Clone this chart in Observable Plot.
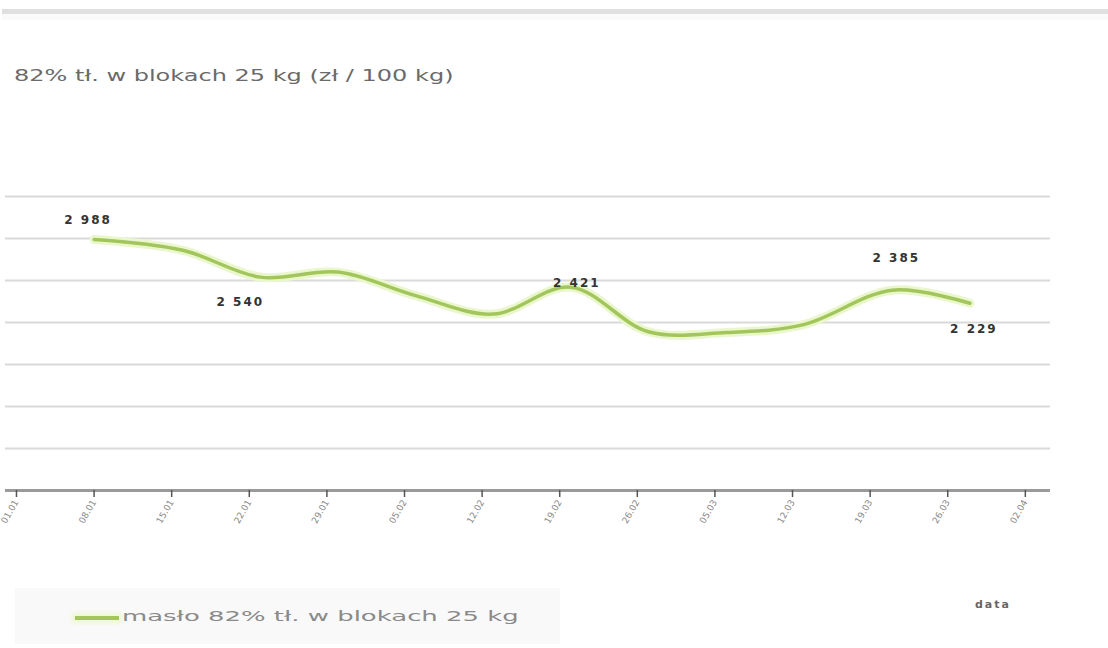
<!DOCTYPE html>
<html><head><meta charset="utf-8">
<script src="https://cdn.jsdelivr.net/npm/d3@7"></script>
<script src="https://cdn.jsdelivr.net/npm/@observablehq/plot@0.6"></script>
<style>
body{margin:0;background:#fff;width:1108px;height:648px;overflow:hidden;position:relative;font-family:"DejaVu Sans",sans-serif}
#rule{position:absolute;left:2px;right:0;top:9px;height:5px;background:#e0e0e0}
#rule2{position:absolute;left:2px;right:0;top:14px;height:6px;background:#fafafa}
#title{position:absolute;left:14px;top:66px;font-size:16px;color:#6a6a6a;white-space:nowrap;transform-origin:left center;transform:scaleX(1.5)}
#chart{position:absolute;left:0;top:100px}
#legend{position:absolute;left:15px;top:588px;width:545px;height:56px;background:#f9f9f9}
#legline{position:absolute;left:60px;top:28px;width:44px;height:4px;background:#a2c65c;box-shadow:0 0 4px 3px #eef8d2}
#legtext{position:absolute;left:107px;top:20px;font-size:14px;color:#8a8a8a;white-space:nowrap;transform-origin:left center;transform:scaleX(1.85)}
#xtitle{position:absolute;left:975px;top:598px;font-size:11px;font-weight:bold;color:#666;letter-spacing:2px}
#chart g[aria-label="text"] text{letter-spacing:2px}
</style></head>
<body>
<div id="rule"></div><div id="rule2"></div>
<div id="title">82% tł. w blokach 25 kg (zł / 100 kg)</div>
<div id="chart"></div>
<div id="legend"><div id="legline"></div><div id="legtext">masło 82% tł. w blokach 25 kg</div></div>
<div id="xtitle">data</div>
<script>
// data
const dates = ["2018-01-08","2018-01-16","2018-01-23","2018-01-30","2018-02-06","2018-02-13","2018-02-20","2018-02-27","2018-03-06","2018-03-13","2018-03-21","2018-03-28"];
const prices = [2988, 2860, 2540, 2600, 2320, 2100, 2421, 1890, 1880, 1975, 2385, 2229];
const tickDates = ["2018-01-01","2018-01-08","2018-01-15","2018-01-22","2018-01-29","2018-02-05","2018-02-12","2018-02-19","2018-02-26","2018-03-05","2018-03-12","2018-03-19","2018-03-26","2018-04-02"];
const tickLabels = ["01.01","08.01","15.01","22.01","29.01","05.02","12.02","19.02","26.02","05.03","12.03","19.03","26.03","02.04"];
const labeledIdx = [0, 2, 6, 10, 11];
const yGrid = [500, 1000, 1500, 2000, 2500, 3000, 3500];

const parse = d3.utcParse("%Y-%m-%d");
const rows = dates.map((d, i) => ({date: parse(d), price: prices[i]}));
const ticks = tickDates.map(parse);
const tickMap = new Map(ticks.map((t, i) => [+t, tickLabels[i]]));
const fmt = v => d3.format(",")(v).replace(/,/g, " ");
const day = 864e5;
const x0 = +ticks[0];

const labelOffsets = [[-6, -19], [-20, 25], [6, -4], [4, -32], [4, 26]];
const labelMarks = labeledIdx.map((idx, k) => Plot.text([rows[idx]], {
  x: "date", y: "price", text: d => fmt(d.price),
  dx: labelOffsets[k][0], dy: labelOffsets[k][1],
  fill: "#333", fontWeight: "bold", fontSize: 12
}));

const chart = Plot.plot({
  width: 1108, height: 450,
  marginTop: 96, marginBottom: 60, marginLeft: 5, marginRight: 58,
  style: {fontFamily: "DejaVu Sans, sans-serif", background: "transparent"},
  x: {type: "utc", domain: [new Date(x0 - 0.99 * day), new Date(x0 + 93.27 * day)]},
  y: {domain: [0, 3500], axis: null},
  marks: [
    Plot.ruleY(yGrid, {stroke: "#dadada", strokeWidth: 2}),
    Plot.ruleY([0], {stroke: "#9a9a9a", strokeWidth: 3}),
    Plot.axisX({ticks, tickFormat: d => tickMap.get(+d), tickRotate: -60, tickSize: 7, tickPadding: 3, stroke: "#555", strokeWidth: 1.5, fill: "#888", fontSize: 9}),
    Plot.lineY(rows, {x: "date", y: "price", curve: "catmull-rom", stroke: "#eaf7cc", strokeWidth: 9}),
    Plot.lineY(rows, {x: "date", y: "price", curve: "catmull-rom", stroke: "#a2c65c", strokeWidth: 3.5}),
    ...labelMarks
  ]
});
document.getElementById("chart").append(chart);
</script>
</body></html>
